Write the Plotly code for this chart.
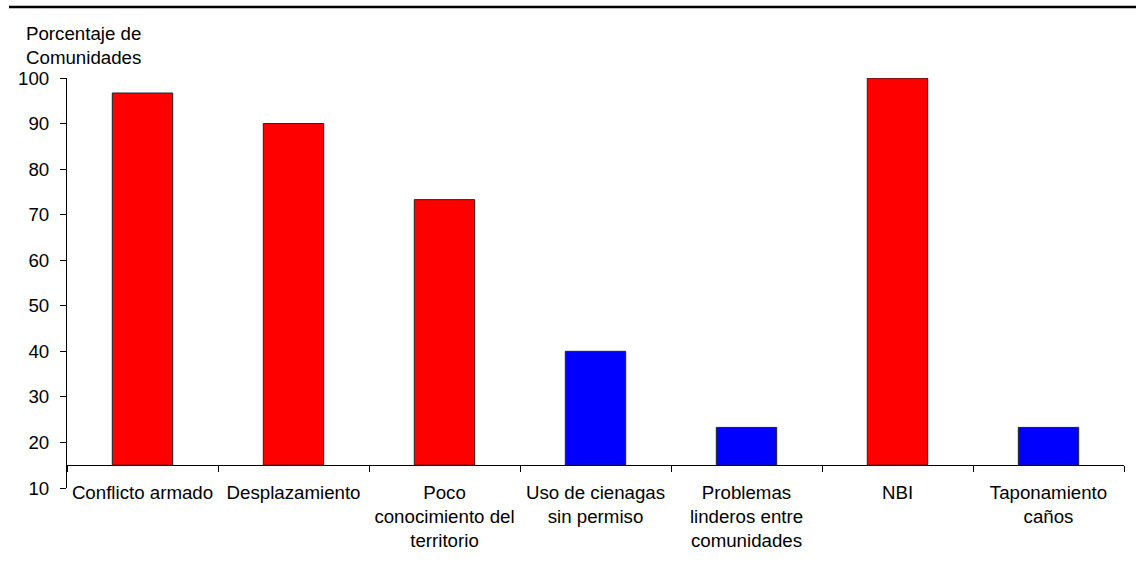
import plotly.graph_objects as go

# Problem categories and share of communities reporting each one (%)
categories = [
    "Conflicto armado",
    "Desplazamiento",
    "Poco<br>conocimiento del<br>territorio",
    "Uso de cienagas<br>sin permiso",
    "Problemas<br>linderos entre<br>comunidades",
    "NBI",
    "Taponamiento<br>caños",
]
percentages = [96.7, 90.0, 73.3, 40.0, 23.3, 100.0, 23.3]
bar_colors = ["#FF0000", "#FF0000", "#FF0000", "#0000FF", "#0000FF", "#FF0000", "#0000FF"]

# Category axis crosses the value axis at 15
axis_cross = 15
y_ticks = [10, 20, 30, 40, 50, 60, 70, 80, 90, 100]

FONT = "Arial, 'Liberation Sans', sans-serif"
FS = 18.7

fig = go.Figure(
    go.Bar(
        x=categories,
        y=[p - axis_cross for p in percentages],
        base=axis_cross,
        width=0.4,
        marker=dict(color=bar_colors, line=dict(color="#222222", width=1)),
        hovertext=[f"{p}" for p in percentages],
    )
)

fig.update_layout(
    width=1136,
    height=568,
    margin=dict(l=67, r=12, t=78, b=80),
    paper_bgcolor="white",
    plot_bgcolor="white",
    showlegend=False,
    font=dict(family=FONT, size=FS, color="black"),
    xaxis=dict(
        type="category",
        range=[-0.5, 6.5],
        anchor="free",
        position=(axis_cross - 10) / 90,
        showline=True,
        linecolor="black",
        linewidth=1,
        ticks="outside",
        tickson="boundaries",
        ticklen=6,
        tickcolor="black",
        tickfont=dict(family=FONT, size=FS, color="black"),
        ticklabelstandoff=10,
        showgrid=False,
        zeroline=False,
    ),
    yaxis=dict(
        range=[10, 100],
        tickvals=y_ticks,
        showline=True,
        linecolor="black",
        linewidth=1,
        ticks="outside",
        ticklen=6,
        tickcolor="black",
        tickfont=dict(family=FONT, size=FS, color="black"),
        ticklabelstandoff=7,
        showgrid=False,
        zeroline=False,
    ),
    annotations=[
        dict(
            text="Porcentaje de<br>Comunidades",
            xref="paper", yref="paper",
            x=-0.0407, y=1.139,
            xanchor="left", yanchor="top",
            align="left",
            showarrow=False,
            font=dict(family=FONT, size=FS, color="black"),
        )
    ],
    shapes=[
        dict(
            type="line",
            xref="paper", yref="paper",
            x0=-0.0549, x1=1.02, y0=1.1732, y1=1.1732,
            line=dict(color="black", width=2.5),
        )
    ],
)

fig.write_html("out.html")
